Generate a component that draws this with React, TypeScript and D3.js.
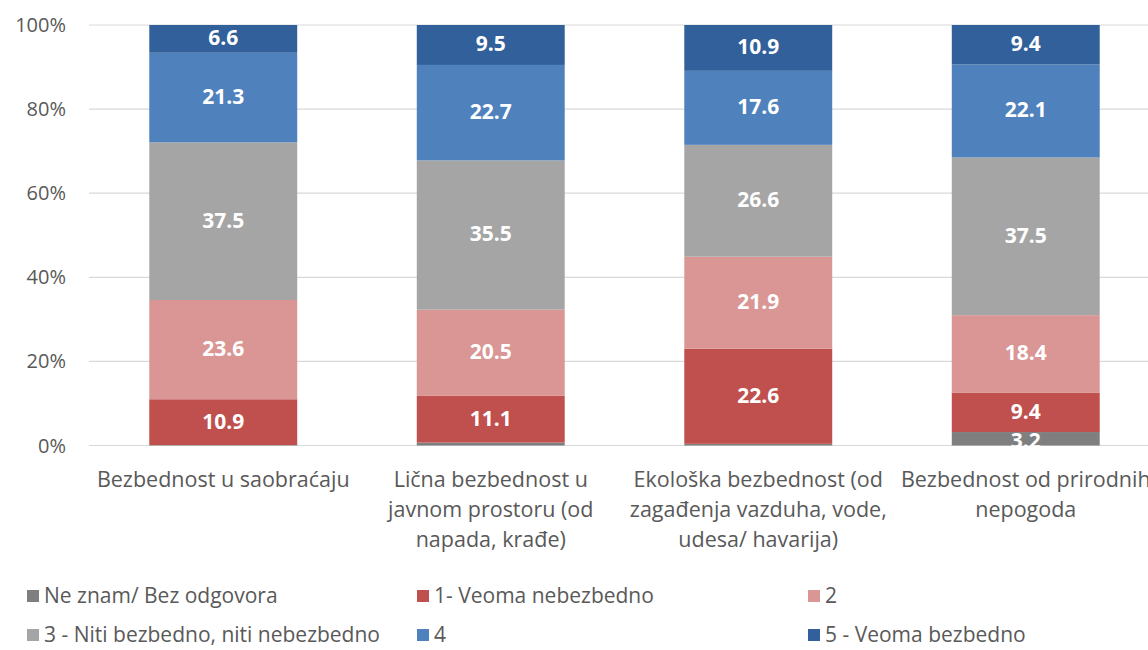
import React from "react";
import * as d3 from "d3";

const categories = [
  ["Bezbednost u saobraćaju"],
  ["Lična bezbednost u", "javnom prostoru (od", "napada, krađe)"],
  ["Ekološka bezbednost (od", "zagađenja vazduha, vode,", "udesa/ havarija)"],
  ["Bezbednost od prirodnih", "nepogoda"],
];
const seriesNames = [
  "Ne znam/ Bez odgovora",
  "1- Veoma nebezbedno",
  "2",
  "3 - Niti bezbedno, niti nebezbedno",
  "4",
  "5 - Veoma bezbedno",
];
const neZnam = [0.1, 0.7, 0.4, 3.2];
const s1 = [10.9, 11.1, 22.6, 9.4];
const s2 = [23.6, 20.5, 21.9, 18.4];
const s3 = [37.5, 35.5, 26.6, 37.5];
const s4 = [21.3, 22.7, 17.6, 22.1];
const s5 = [6.6, 9.5, 10.9, 9.4];
const yTicks = [0, 20, 40, 60, 80, 100];
const colors = ["#7f7f7f", "#c0504d", "#d99694", "#a5a5a5", "#4f81bd", "#31609a"];

const W = 1148;
const H = 650;
const FONT = "'Open Sans', sans-serif";

export default function App() {
  const series = [neZnam, s1, s2, s3, s4, s5];
  const x = d3
    .scaleBand<number>()
    .domain(categories.map((_, i) => i))
    .range([89.5, 1159.5])
    .paddingInner(0.447)
    .paddingOuter(0.2235);
  const y = d3.scaleLinear().domain([0, 100]).range([445.5, 25]);

  const rows = categories.map((_, i) => {
    const r: any = { i };
    series.forEach((s, k) => (r["k" + k] = s[i]));
    return r;
  });
  const stack = d3.stack<any>().keys(series.map((_, k) => "k" + k));
  const stacked = stack(rows);

  const legendPos = [
    [27, 596],
    [417, 596],
    [808, 596],
    [27, 635],
    [417, 635],
    [808, 635],
  ];

  return (
    <svg
      width={W}
      height={H}
      style={{ position: "absolute", left: 0, top: 0, background: "#fff" }}
      fontFamily={FONT}
    >
      {yTicks.map((t) => (
        <g key={t}>
          <line x1={89} x2={W} y1={y(t)} y2={y(t)} stroke="#d9d9d9" strokeWidth={1.2} />
          <text
            x={66}
            y={y(t)}
            dy="0.35em"
            textAnchor="end"
            fontSize={20}
            fill="#595959"
          >
            {t}%
          </text>
        </g>
      ))}
      {stacked.map((layer, k) => (
        <g key={k} fill={colors[k]}>
          {layer.map((d, i) => (
            <rect
              key={i}
              x={x(i)}
              width={x.bandwidth()}
              y={y(d[1])}
              height={y(d[0]) - y(d[1])}
            />
          ))}
        </g>
      ))}
      {stacked.map((layer, k) =>
        layer.map((d, i) => {
          const v = d[1] - d[0];
          if (v < 1) return null;
          const cy = (y(d[0]) + y(d[1])) / 2;
          return (
            <text
              key={k + "-" + i}
              x={(x(i) as number) + x.bandwidth() / 2}
              y={cy + (k === 0 ? 2 : -1)}
              dy="0.35em"
              textAnchor="middle"
              fontSize={21}
              fontWeight="bold"
              fill="#fff"
            >
              {v.toFixed(1)}
            </text>
          );
        })
      )}
      {categories.map((lines, i) => (
        <text
          key={i}
          x={(x(i) as number) + x.bandwidth() / 2}
          textAnchor="middle"
          fontSize={21.5}
          fill="#595959"
        >
          {lines.map((l, j) => (
            <tspan key={j} x={(x(i) as number) + x.bandwidth() / 2} y={487 + j * 30}>
              {l}
            </tspan>
          ))}
        </text>
      ))}
      {seriesNames.map((n, k) => (
        <g key={k}>
          <rect
            x={legendPos[k][0]}
            y={legendPos[k][1] - 6}
            width={12}
            height={12}
            fill={colors[k]}
          />
          <text
            x={legendPos[k][0] + 17}
            y={legendPos[k][1]}
            dy="0.35em"
            fontSize={21}
            fill="#595959"
          >
            {n}
          </text>
        </g>
      ))}
    </svg>
  );
}
